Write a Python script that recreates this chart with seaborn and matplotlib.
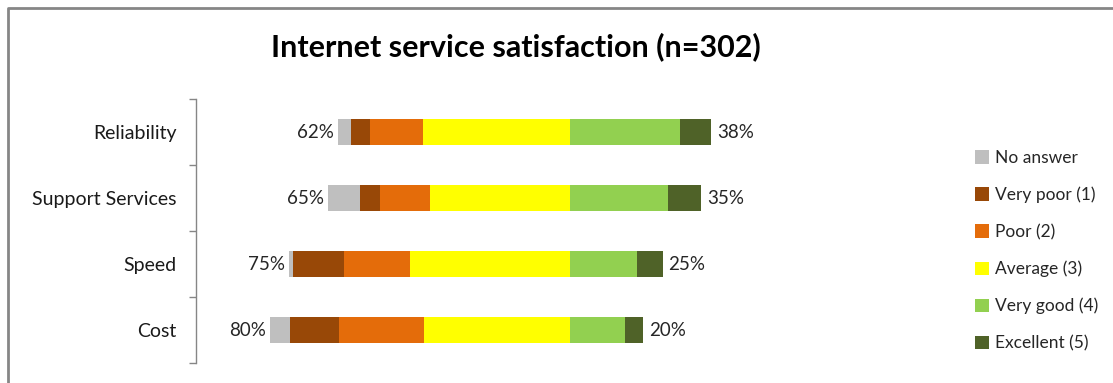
import matplotlib
matplotlib.use("Agg")
import matplotlib.pyplot as plt
from matplotlib.lines import Line2D
from matplotlib.patches import Patch
import numpy as np
import pandas as pd
import seaborn as sns

# Survey aspects (top to bottom) and answer shares in percent
aspects = ["Reliability", "Support Services", "Speed", "Cost"]
no_answer = [3.4, 8.6, 1.1, 5.5]
very_poor = [5.3, 5.4, 13.7, 13.1]
poor = [14.0, 13.4, 17.7, 22.7]
average = [39.3, 37.3, 42.6, 39.0]
very_good = [29.5, 26.5, 18.2, 14.9]
excellent = [8.5, 8.8, 6.7, 4.8]

answer_labels = ["No answer", "Very poor (1)", "Poor (2)", "Average (3)",
                 "Very good (4)", "Excellent (5)"]
answer_colors = ["#BFBFBF", "#984807", "#E46C0A", "#FFFF00", "#92D050", "#4F6228"]

df = pd.DataFrame({
    "aspect": aspects,
    "no_answer": no_answer,
    "very_poor": very_poor,
    "poor": poor,
    "average": average,
    "very_good": very_good,
    "excellent": excellent,
})

sns.set_theme(style="white")
plt.rcParams["font.family"] = ["Lato", "DejaVu Sans"]

W, H = 1113, 383
fig = plt.figure(figsize=(W / 100, H / 100), dpi=100)
ax = fig.add_axes([196 / W, 1 - 363 / H, 747 / W, 264 / H])

# Left half: cumulative negative extents, widest first so narrower ones sit on top
left_stack = [
    (df.no_answer + df.very_poor + df.poor + df.average, answer_colors[0]),
    (df.very_poor + df.poor + df.average, answer_colors[1]),
    (df.poor + df.average, answer_colors[2]),
    (df.average, answer_colors[3]),
]
for vals, col in left_stack:
    sns.barplot(x=-vals, y=df.aspect, order=aspects, orient="h", color=col,
                saturation=1, width=0.4, errorbar=None, linewidth=0, ax=ax)

# Right half: positive answers
right_stack = [
    (df.very_good + df.excellent, answer_colors[5]),
    (df.very_good, answer_colors[4]),
]
for vals, col in right_stack:
    sns.barplot(x=vals, y=df.aspect, order=aspects, orient="h", color=col,
                saturation=1, width=0.4, errorbar=None, linewidth=0, ax=ax)

# Totals at both ends of each bar
left_total = df.no_answer + df.very_poor + df.poor + df.average
right_total = df.very_good + df.excellent
for i in range(len(aspects)):
    ax.text(-left_total[i] - 1.0, i, f"{left_total[i]:.0f}%", ha="right",
            va="center", fontsize=13.5, color="#262626")
    ax.text(right_total[i] + 1.5, i, f"{right_total[i]:.0f}%", ha="left",
            va="center", fontsize=13.5, color="#262626")

ax.set_xlim(-100, 100)
ax.set_ylim(len(aspects) - 0.5, -0.5)
ax.set_xlabel("")
ax.set_ylabel("")
ax.set_xticks([])

# Category axis: labels centred, tick marks on the category boundaries
ax.set_yticks(range(len(aspects)))
ax.set_yticklabels(aspects, fontsize=14, color="#1a1a1a")
ax.set_yticks(np.arange(-0.5, len(aspects), 1.0), minor=True)
ax.tick_params(axis="y", which="major", length=0, pad=14)
ax.tick_params(axis="y", which="minor", length=5, width=1, color="#868686",
               direction="out", left=True)
for side in ["top", "right", "bottom"]:
    ax.spines[side].set_visible(False)
ax.spines["left"].set_color("#868686")
ax.spines["left"].set_linewidth(1)

# Legend
handles = [Patch(facecolor=c, edgecolor="none") for c in answer_colors]
fig.legend(handles, answer_labels, loc="upper left",
           bbox_to_anchor=(968 / W, 1 - 143 / H), frameon=False,
           fontsize=12.5, handlelength=0.8, handleheight=0.8,
           handletextpad=0.35, labelspacing=1.19, borderaxespad=0)

# Title
fig.text(516 / W, 1 - 47 / H, "Internet service satisfaction (n=302)",
         ha="center", va="center", fontsize=22, fontweight="bold", color="black")

# Chart area border
border = Line2D([7.5 / W, 7.5 / W, 1.0], [0.0, 1 - 7.5 / H, 1 - 7.5 / H],
                transform=fig.transFigure, color="#868686", linewidth=2)
fig.add_artist(border)

fig.savefig("out.png", dpi=100)
